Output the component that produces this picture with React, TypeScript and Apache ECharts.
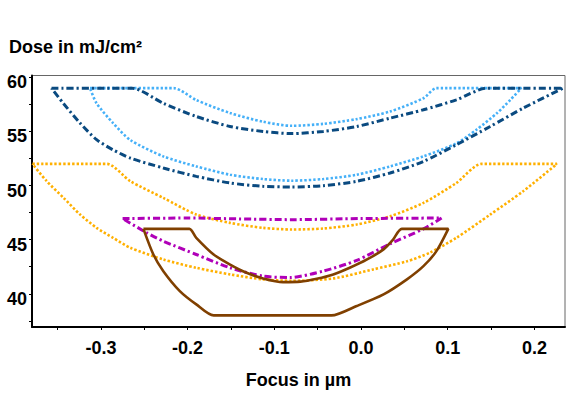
import React, { useEffect, useRef } from "react";
import * as echarts from "echarts";

// Focus (µm) / dose (mJ/cm²) boundary polygons of each process window
const lightBlueWindow: [number, number][] = [
  [-0.3126, 59], [-0.216, 59], [-0.19, 57.9], [-0.151, 56.7], [-0.113, 55.9], [-0.08, 55.52],
  [-0.0435, 55.7], [-0.005, 56.14], [0.0335, 56.84], [0.072, 58.07], [0.087, 59], [0.185, 59],
  [0.172, 57.9], [0.157, 56.7], [0.133, 55.15], [0.11, 53.9], [0.072, 52.7], [0.0335, 51.77],
  [-0.005, 51.0], [-0.0435, 50.6], [-0.08, 50.45], [-0.113, 50.6], [-0.151, 51.0], [-0.19, 51.77],
  [-0.228, 52.7], [-0.266, 54.2], [-0.286, 55.77], [-0.305, 57.6], [-0.3126, 59],
];
const darkBlueWindow: [number, number][] = [
  [-0.357, 59], [-0.264, 59], [-0.228, 57.6], [-0.19, 56.38], [-0.151, 55.46], [-0.113, 55.0],
  [-0.08, 54.8], [-0.0435, 55.0], [-0.005, 55.46], [0.0335, 56.23], [0.072, 57.0], [0.11, 57.92],
  [0.145, 59], [0.233, 59], [0.187, 57.15], [0.149, 55.46], [0.11, 53.77], [0.072, 52.23],
  [0.0335, 51.16], [-0.005, 50.39], [-0.0435, 49.99], [-0.08, 49.87], [-0.113, 49.93],
  [-0.151, 50.24], [-0.19, 50.85], [-0.228, 51.62], [-0.266, 52.54], [-0.286, 53.3],
  [-0.305, 54.24], [-0.324, 55.77], [-0.3434, 57.6], [-0.357, 59],
];
const yellowWindow: [number, number][] = [
  [-0.379, 52], [-0.293, 52], [-0.266, 50.4], [-0.228, 48.86], [-0.19, 47.32], [-0.151, 46.55],
  [-0.113, 46.09], [-0.08, 45.94], [-0.0435, 46.03], [-0.005, 46.4], [0.0335, 47.16], [0.072, 48.4],
  [0.11, 50.24], [0.139, 52], [0.226, 52], [0.187, 49.47], [0.149, 47.32], [0.11, 45.17],
  [0.0795, 43.8], [0.053, 43.0], [0.014, 42.25], [-0.032, 41.42], [-0.08, 41.2], [-0.113, 41.33],
  [-0.151, 41.79], [-0.19, 42.4], [-0.228, 43.17], [-0.266, 44.25], [-0.286, 45.17],
  [-0.305, 46.09], [-0.324, 47.32], [-0.343, 48.86], [-0.3625, 50.4], [-0.379, 52],
];
const purpleWindow: [number, number][] = [
  [-0.275, 46.95], [-0.2, 47.0], [-0.14, 46.92], [-0.08, 46.85], [0.0, 46.95], [0.093, 47.0],
  [0.072, 46.0], [0.0335, 44.62], [-0.005, 43.08], [-0.0435, 42.1], [-0.082, 41.5],
  [-0.113, 41.63], [-0.151, 42.4], [-0.19, 43.63], [-0.228, 44.86], [-0.247, 45.63], [-0.275, 46.95],
];
const brownWindow: [number, number][] = [
  [-0.251, 46], [-0.198, 46], [-0.19, 45.17], [-0.17, 43.63], [-0.151, 42.7], [-0.132, 41.94],
  [-0.113, 41.42], [-0.09, 41.08], [-0.07, 41.12], [-0.051, 41.39], [-0.032, 41.79], [-0.013, 42.4],
  [0.007, 43.17], [0.026, 44.1], [0.037, 45.0], [0.047, 46], [0.1007, 46], [0.087, 43.94],
  [0.072, 42.55], [0.053, 41.33], [0.026, 39.94], [-0.005, 38.87], [-0.034, 38], [-0.17, 38],
  [-0.19, 39.02], [-0.209, 40.25], [-0.228, 42.09], [-0.2395, 43.63], [-0.251, 46],
];

const xTickValues = [-0.35, -0.3, -0.25, -0.2, -0.15, -0.1, -0.05, 0, 0.05, 0.1, 0.15, 0.2];
const xLabelValues = [-0.3, -0.2, -0.1, 0, 0.1, 0.2];
const yTickValues = [37.5, 40, 42.5, 45, 47.5, 50, 52.5, 55, 57.5, 60];
const yLabelValues = [40, 45, 50, 55, 60];

const FONT = "'Liberation Sans', Arial, sans-serif";

export default function App() {
  const ref = useRef<HTMLDivElement>(null);
  useEffect(() => {
    if (!ref.current) return;
    const chart = echarts.init(ref.current, null, { renderer: "svg" });
    const dotted = (c: string) => ({ color: c, width: 2.6, type: [2.4, 2] as number[] });
    const dashDot = (c: string) => ({ color: c, width: 3, type: [7, 3, 2.2, 3] as number[] });
    const mk = (name: string, data: [number, number][], lineStyle: any) => ({
      name,
      type: "line",
      data,
      showSymbol: false,
      smooth: 0.25,
      lineStyle,
      silent: true,
    });
    chart.setOption({
      animation: false,
      grid: {
        left: 32,
        right: 2,
        top: 75.5,
        bottom: 66.3,
        show: true,
        borderColor: "#666",
        borderWidth: 1,
        backgroundColor: "transparent",
      },
      graphic: [
        {
          type: "text",
          left: 9,
          top: 38,
          style: { text: "Dose in mJ/cm²", fontFamily: FONT, fontWeight: "bold", fontSize: 18, fill: "#000" },
        },
      ],
      xAxis: {
        type: "value",
        min: -0.3795,
        max: 0.2353,
        name: "Focus in µm",
        nameLocation: "middle",
        nameGap: 44,
        nameTextStyle: { fontFamily: FONT, fontWeight: "bold", fontSize: 18, color: "#000" },
        axisLine: { show: true, onZero: false, lineStyle: { color: "#000", width: 2 } },
        axisTick: { show: true, customValues: xTickValues, length: 3, lineStyle: { color: "#000", width: 1 } },
        axisLabel: {
          customValues: xLabelValues,
          formatter: (v: number) => (Math.abs(v) < 1e-9 ? "0.0" : v.toFixed(1)),
          fontFamily: FONT,
          fontWeight: "bold",
          fontSize: 18,
          color: "#000",
          margin: 12,
        },
        splitLine: { show: false },
      },
      yAxis: {
        type: "value",
        min: 36.93,
        max: 60.17,
        axisLine: { show: true, onZero: false, lineStyle: { color: "#000", width: 2 } },
        axisTick: { show: true, customValues: yTickValues, length: 3, lineStyle: { color: "#000", width: 1 } },
        axisLabel: {
          customValues: yLabelValues,
          fontFamily: FONT,
          fontWeight: "bold",
          fontSize: 18,
          color: "#000",
          margin: 5,
          verticalAlign: "top",
          lineHeight: 10,
        },
        splitLine: { show: false },
      },
      series: [
        mk("Light blue", lightBlueWindow, dotted("#45b0f8")),
        mk("Dark blue", darkBlueWindow, dashDot("#0a4a80")),
        mk("Yellow", yellowWindow, dotted("#ffb000")),
        mk("Purple", purpleWindow, dashDot("#b000b8")),
        mk("Brown", brownWindow, { color: "#804000", width: 2.6, type: "solid" }),
      ],
    });
    return () => chart.dispose();
  }, []);
  return (
    <div ref={ref} style={{ position: "absolute", left: 0, top: 0, width: 567, height: 394 }} />
  );
}
